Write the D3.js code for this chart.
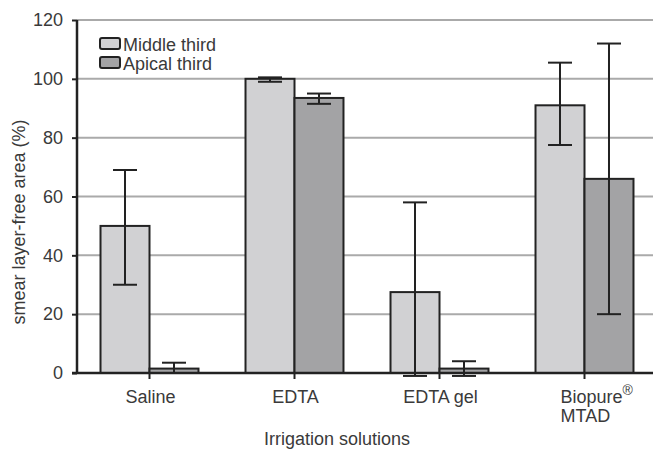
<!DOCTYPE html>
<html>
<head>
<meta charset="utf-8">
<script src="https://cdn.jsdelivr.net/npm/d3@7"></script>
<style>
  body { margin: 0; background: #fff; }
  text { font-family: "Liberation Sans", Arial, sans-serif; fill: #3a3a3a; }
</style>
</head>
<body>
<div id="chart"></div>
<script>
const categories = ['Saline', 'EDTA', 'EDTA gel', 'Biopure® MTAD'];
const seriesNames = ['Middle third', 'Apical third'];
const middleValues = [50, 100, 27.5, 91];
const middleLow = [30, 99, -1, 77.5];
const middleHigh = [69, 100.5, 58, 105.5];
const apicalValues = [1.5, 93.5, 1.5, 66];
const apicalLow = [0, 91.5, -1, 20];
const apicalHigh = [3.5, 95, 4, 112];
const yTicks = [0, 20, 40, 60, 80, 100, 120];

const width = 653, height = 450;
const margin = {top: 20, right: -4, bottom: 77, left: 77};
const colors = ['#d1d1d3', '#a3a3a5'];
const fontSize = '18px';

const svg = d3.select('#chart').append('svg')
  .attr('width', width)
  .attr('height', height);

const x = d3.scaleBand()
  .domain(categories)
  .range([margin.left, width - margin.right])
  .paddingInner(0).paddingOuter(0);

const x1 = d3.scaleBand()
  .domain(seriesNames)
  .range([0, x.bandwidth()])
  .paddingInner(0).paddingOuter(0.48);

const y = d3.scaleLinear()
  .domain([0, 120])
  .range([height - margin.bottom, margin.top]);

// grid lines
svg.append('g').selectAll('line')
  .data(yTicks.filter(d => d > 0))
  .enter().append('line')
  .attr('x1', margin.left).attr('x2', width)
  .attr('y1', d => y(d)).attr('y2', d => y(d))
  .attr('stroke', '#aaa').attr('stroke-width', 2);

const series = [
  {name: seriesNames[0], values: middleValues, low: middleLow, high: middleHigh},
  {name: seriesNames[1], values: apicalValues, low: apicalLow, high: apicalHigh}
];

const bars = [];
series.forEach((s, si) => {
  categories.forEach((c, ci) => {
    bars.push({cat: c, name: s.name, si, v: s.values[ci], lo: s.low[ci], hi: s.high[ci]});
  });
});

svg.append('g').selectAll('rect')
  .data(bars)
  .enter().append('rect')
  .attr('x', d => x(d.cat) + x1(d.name))
  .attr('y', d => y(d.v))
  .attr('width', x1.bandwidth())
  .attr('height', d => y(0) - y(d.v))
  .attr('fill', d => colors[d.si])
  .attr('stroke', '#222')
  .attr('stroke-width', 2);

// error bars
const eb = svg.append('g').attr('stroke', '#222').attr('stroke-width', 2);
bars.forEach(d => {
  const cx = x(d.cat) + x1(d.name) + x1.bandwidth() / 2;
  eb.append('line').attr('x1', cx).attr('x2', cx).attr('y1', y(d.lo)).attr('y2', y(d.hi));
  eb.append('line').attr('x1', cx - 12).attr('x2', cx + 12).attr('y1', y(d.hi)).attr('y2', y(d.hi));
  eb.append('line').attr('x1', cx - 12).attr('x2', cx + 12).attr('y1', y(d.lo)).attr('y2', y(d.lo));
});

// y axis
const yAxis = svg.append('g')
  .attr('transform', `translate(${margin.left},0)`)
  .call(d3.axisLeft(y).tickValues(yTicks).tickSize(5).tickPadding(9));
yAxis.select('.domain').attr('stroke', '#222').attr('stroke-width', 2.5)
  .attr('d', `M0,${y(120)}V${y(0)}`);
yAxis.selectAll('.tick line').attr('stroke', '#222').attr('stroke-width', 2);
yAxis.selectAll('.tick text').style('font-size', fontSize).attr('fill', '#3a3a3a')
  .style('font-family', '"Liberation Sans", Arial, sans-serif');

// x axis
const xAxis = svg.append('g')
  .attr('transform', `translate(0,${y(0)})`)
  .call(d3.axisBottom(x).tickSize(6).tickFormat(() => ''));
xAxis.select('.domain').attr('stroke', '#222').attr('stroke-width', 2.5)
  .attr('d', `M${margin.left - 5},0H${width}`);
xAxis.selectAll('.tick line').attr('stroke', '#222').attr('stroke-width', 2);

// category labels
categories.forEach(c => {
  const cx = x(c) + x.bandwidth() / 2;
  if (c === 'Biopure® MTAD') {
    const t = svg.append('text').attr('x', cx - 24).attr('y', 403)
      .style('font-size', fontSize);
    t.append('tspan').text('Biopure');
    t.append('tspan').text('®').attr('dy', -8).style('font-size', '14px');
    svg.append('text').attr('x', cx - 24).attr('y', 422)
      .style('font-size', fontSize).text('MTAD');
  } else {
    svg.append('text').attr('x', cx + 1).attr('y', 403)
      .attr('text-anchor', 'middle').style('font-size', fontSize).text(c);
  }
});

// axis titles
svg.append('text')
  .attr('x', 337).attr('y', 445)
  .attr('text-anchor', 'middle').style('font-size', fontSize)
  .text('Irrigation solutions');

svg.append('text')
  .attr('transform', `translate(25,222) rotate(-90)`)
  .attr('text-anchor', 'middle').style('font-size', fontSize)
  .text('smear layer-free area (%)');

// legend
const legend = svg.append('g');
seriesNames.forEach((n, i) => {
  const ly = 38 + i * 19;
  legend.append('rect').attr('x', 100).attr('y', ly).attr('width', 20).attr('height', 11)
    .attr('rx', 2)
    .attr('fill', colors[i]).attr('stroke', '#222').attr('stroke-width', 2);
  legend.append('text').attr('x', 123).attr('y', ly + 13)
    .style('font-size', fontSize).text(n);
});
</script>
</body>
</html>
